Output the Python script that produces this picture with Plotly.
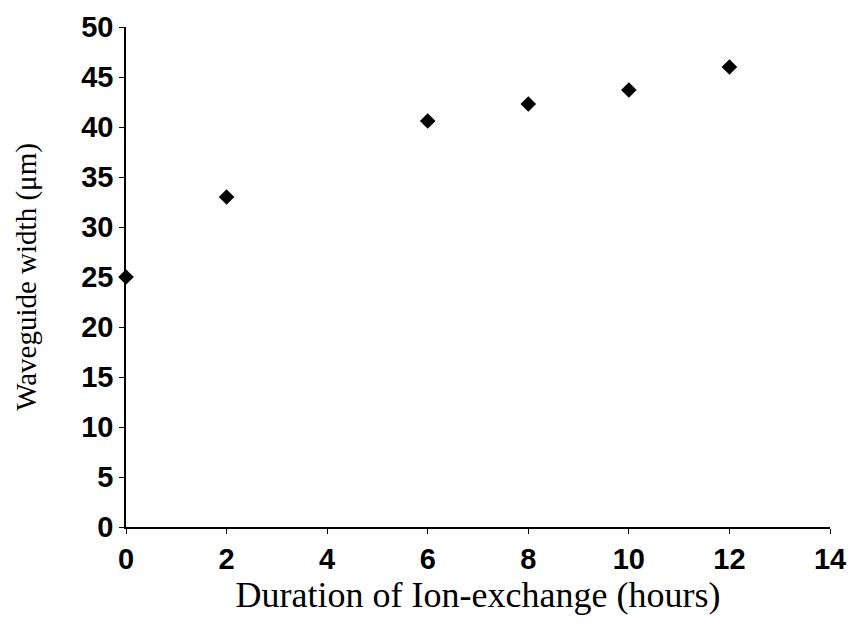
import plotly.graph_objects as go

hours = [0, 2, 6, 8, 10, 12]
width_um = [25.0, 33.0, 40.6, 42.3, 43.7, 46.0]

x_ticks = [0, 2, 4, 6, 8, 10, 12, 14]
y_ticks = [0, 5, 10, 15, 20, 25, 30, 35, 40, 45, 50]

fig = go.Figure()
fig.add_trace(go.Scatter(
    x=hours, y=width_um, mode="markers",
    marker=dict(symbol="diamond", size=12, color="black"),
    cliponaxis=False, showlegend=False,
))

tick_font = dict(family="Liberation Sans, Arial", size=29, color="black", weight="bold")
x_title_font = dict(family="Liberation Serif, Times New Roman", size=36, color="black")
y_title_font = dict(family="Liberation Serif, Times New Roman", size=29, color="black")

fig.update_layout(
    width=859, height=631,
    margin=dict(l=126, r=29, t=27, b=104),
    paper_bgcolor="white", plot_bgcolor="white",
    xaxis=dict(
        range=[0, 14], tickvals=x_ticks, ticktext=[str(v) for v in x_ticks],
        showgrid=False, zeroline=False, showline=True, linecolor="black", linewidth=1.5,
        ticks="outside", ticklen=5, tickcolor="black", tickfont=tick_font,
        title=dict(text="Duration of Ion-exchange (hours)", font=x_title_font, standoff=8),
    ),
    yaxis=dict(
        range=[0, 50], tickvals=y_ticks, ticktext=[str(v) for v in y_ticks],
        showgrid=False, zeroline=False, showline=True, linecolor="black", linewidth=1.5,
        ticks="outside", ticklen=5, tickcolor="black", tickfont=tick_font,
        title=dict(text="Waveguide width (μm)", font=y_title_font, standoff=36),
    ),
)

fig.write_html("out.html")
